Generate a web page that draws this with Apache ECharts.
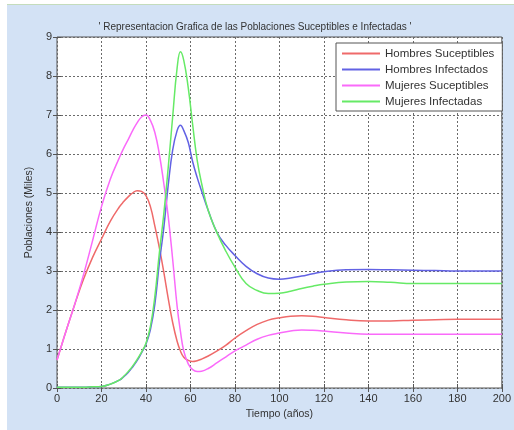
<!DOCTYPE html>
<html lang="es">
<head>
	<meta charset="UTF-8">
	<title>Poblaciones Suceptibles e Infectadas</title>
	<style>
		body, div {
			margin: 0;
			padding: 0;
		}
		#main {
			width: 514px;
			height: 430px;
		}
	</style>
</head>
<body>
	<div id="main"></div>

	<script src="https://cdn.jsdelivr.net/npm/echarts@6/dist/echarts.min.js"></script>

	<script>
    // tiempo (años)
    var tiempo = [0, 4, 8, 12, 16, 20, 24, 28, 30, 32, 34, 36, 38, 40, 42, 44, 46, 48, 50, 52, 54,
        55.5, 57, 59, 61, 63, 65, 68, 72, 76, 80, 85, 90, 95, 100, 105, 110, 115, 120, 130, 140,
        150, 160, 170, 180, 190, 200];

    // poblaciones (miles)
    var hombresSuceptibles = [0.72, 1.45, 2.15, 2.8, 3.35, 3.82, 4.28, 4.64, 4.78, 4.9, 5.0, 5.06,
        5.04, 4.93, 4.65, 4.15, 3.6, 2.98, 2.3, 1.68, 1.2, 0.95, 0.79, 0.71, 0.68, 0.7, 0.74, 0.82,
        0.95, 1.1, 1.28, 1.47, 1.63, 1.74, 1.8, 1.84, 1.85, 1.84, 1.81, 1.75, 1.72, 1.72, 1.74,
        1.75, 1.76, 1.76, 1.76];
    var hombresInfectados = [0.02, 0.02, 0.02, 0.02, 0.03, 0.04, 0.1, 0.2, 0.29, 0.4, 0.54, 0.7,
        0.9, 1.12, 1.5, 2.15, 3.2, 4.1, 5.2, 6.1, 6.6, 6.74, 6.6, 6.3, 5.8, 5.4, 5.05, 4.55,
        3.98, 3.65, 3.4, 3.12, 2.93, 2.82, 2.79, 2.82, 2.87, 2.93, 2.98, 3.03, 3.04, 3.03, 3.02,
        3.01, 3.0, 3.0, 3.0];
    var mujeresSuceptibles = [0.72, 1.45, 2.15, 2.92, 3.78, 4.65, 5.36, 5.9, 6.15, 6.37, 6.6, 6.8,
        6.95, 7.0, 6.86, 6.55, 6.0, 5.25, 4.4, 3.3, 2.1, 1.45, 0.95, 0.62, 0.47, 0.42, 0.43, 0.5,
        0.65, 0.8, 0.95, 1.1, 1.25, 1.35, 1.41, 1.46, 1.49, 1.48, 1.46, 1.41, 1.38, 1.38, 1.38,
        1.38, 1.38, 1.38, 1.38];
    var mujeresInfectadas = [0.02, 0.02, 0.02, 0.02, 0.03, 0.04, 0.1, 0.2, 0.3, 0.42, 0.56, 0.73,
        0.92, 1.15, 1.58, 2.35, 3.45, 4.45, 5.65, 6.95, 8.2, 8.62, 8.4, 7.7, 6.75, 5.85, 5.25, 4.55,
        3.97, 3.5, 3.1, 2.68, 2.5, 2.42, 2.43, 2.48, 2.55, 2.61, 2.66, 2.72, 2.73, 2.71, 2.68,
        2.68, 2.68, 2.68, 2.68];

    var nombres = ['Hombres Suceptibles', 'Hombres Infectados', 'Mujeres Suceptibles', 'Mujeres Infectadas'];
    var colores = ['#ef6a6a', '#6262e4', '#fa6afa', '#66ea66'];
    var valores = [hombresSuceptibles, hombresInfectados, mujeresSuceptibles, mujeresInfectadas];

    var fuente = 'Liberation Sans';
    var rejilla = { show: true, lineStyle: { color: '#6a6a6a', type: [2, 2], width: 1 } };

    function pares(vals) {
        return tiempo.map(function (t, i) { return [t, vals[i]]; });
    }

    var myEcharts = echarts.init(document.getElementById('main'));

    var options = {
        backgroundColor: '#ffffff',
        animation: false,
        graphic: [
            { type: 'rect', z: -10, silent: true, shape: { x: 7, y: 5, width: 507, height: 425 }, style: { fill: '#d3e2f5' } },
            { type: 'rect', z: -10, silent: true, shape: { x: 7, y: 4, width: 507, height: 1 }, style: { fill: '#c4dcbc' } }
        ],
        title: {
            text: "' Representacion Grafica de las Poblaciones Suceptibles e Infectadas '",
            left: 250,
            top: 17,
            textAlign: 'center',
            textStyle: { fontFamily: fuente, fontSize: 10, fontWeight: 'normal', color: '#333' }
        },
        legend: {
            orient: 'vertical',
            left: 336,
            top: 43,
            data: nombres,
            icon: 'rect',
            itemWidth: 38,
            itemHeight: 2,
            itemGap: 3,
            padding: [4, 8, 3, 6],
            backgroundColor: '#fff',
            borderColor: '#555',
            borderWidth: 1,
            textStyle: { fontFamily: fuente, fontSize: 11.5, color: '#333', lineHeight: 13 }
        },
        grid: {
            left: 57,
            top: 37,
            right: 6,
            bottom: 42,
            show: true,
            backgroundColor: '#fff',
            borderColor: '#555',
            borderWidth: 1
        },
        xAxis: [{
            type: 'value',
            min: 0,
            max: 200,
            interval: 20,
            name: 'Tiempo (años)',
            nameLocation: 'middle',
            nameGap: 19,
            nameTextStyle: { fontFamily: fuente, fontSize: 10.5, color: '#333' },
            axisLine: { show: false },
            axisTick: { inside: true, length: 4, lineStyle: { color: '#555' } },
            axisLabel: { fontFamily: fuente, fontSize: 11, color: '#333', margin: 5 },
            splitLine: rejilla
        }, {
            type: 'value',
            position: 'top',
            min: 0,
            max: 200,
            interval: 20,
            axisLine: { show: false },
            axisTick: { inside: true, length: 4, lineStyle: { color: '#555' } },
            axisLabel: { show: false },
            splitLine: { show: false }
        }],
        yAxis: [{
            type: 'value',
            min: 0,
            max: 9,
            interval: 1,
            name: 'Poblaciones (Miles)',
            nameLocation: 'middle',
            nameGap: 20,
            nameTextStyle: { fontFamily: fuente, fontSize: 10.5, color: '#333' },
            axisLine: { show: false },
            axisTick: { inside: true, length: 4, lineStyle: { color: '#555' } },
            axisLabel: { fontFamily: fuente, fontSize: 11, color: '#333', margin: 5 },
            splitLine: rejilla
        }, {
            type: 'value',
            position: 'right',
            min: 0,
            max: 9,
            interval: 1,
            axisLine: { show: false },
            axisTick: { inside: true, length: 4, lineStyle: { color: '#555' } },
            axisLabel: { show: false },
            splitLine: { show: false }
        }],
        series: nombres.map(function (n, i) {
            return {
                name: n,
                type: 'line',
                data: pares(valores[i]),
                symbol: 'none',
                smooth: 0.45,
                lineStyle: { color: colores[i], width: 1.5 },
                itemStyle: { color: colores[i] }
            };
        })
    };

    myEcharts.setOption(options);
	</script>
</body>
</html>
